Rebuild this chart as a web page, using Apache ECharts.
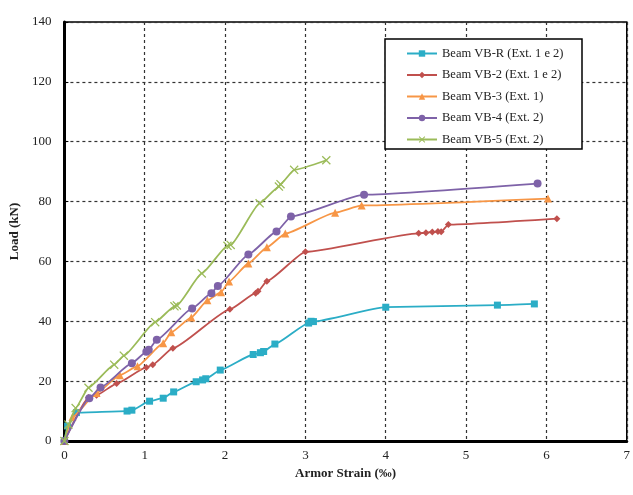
<!DOCTYPE html>
<html><head><meta charset="utf-8">
<script src="https://cdn.jsdelivr.net/npm/echarts@6/dist/echarts.min.js"></script>
<style>html,body{margin:0;padding:0;background:#fff}#c{width:633px;height:495px}</style>
</head><body><div id="c"></div>
<script>
const seriesNames = ['Beam VB-R (Ext. 1 e 2)','Beam VB-2 (Ext. 1 e 2)','Beam VB-3 (Ext. 1)','Beam VB-4 (Ext. 2)','Beam VB-5 (Ext. 2)'];
const xTicks = [0,1,2,3,4,5,6,7];
const yTicks = [0,20,40,60,80,100,120,140];
const vbR = [[0,0],[0.04,5],[0.15,9.5],[0.78,10],[0.84,10.3],[1.06,13.3],[1.23,14.3],[1.36,16.4],[1.64,19.8],[1.72,20.4],[1.76,20.8],[1.94,23.7],[2.35,28.9],[2.44,29.5],[2.48,29.9],[2.62,32.4],[3.04,39.4],[3.07,40],[3.1,39.9],[4.0,44.7],[5.39,45.4],[5.85,45.8]];
const vb2 = [[0,0],[0.3,14.5],[0.4,15.3],[0.65,19.2],[1.02,24.6],[1.1,25.5],[1.35,31],[2.06,44],[2.38,49.4],[2.41,50],[2.52,53.4],[3.0,63.2],[4.41,69.4],[4.5,69.6],[4.58,69.8],[4.65,70],[4.69,69.9],[4.78,72.3],[6.13,74.3]];
const vb3 = [[0,0],[0.1,8],[0.4,16],[0.69,22],[0.91,25],[1.23,32.7],[1.33,36.3],[1.58,41.3],[1.78,47],[1.95,49.7],[2.05,53.3],[2.29,59.3],[2.52,64.7],[2.75,69.3],[3.37,76.3],[3.7,78.7],[6.02,81]];
const vb4 = [[0,0],[0.31,14.3],[0.45,17.9],[0.84,26],[1.02,29.8],[1.05,30.5],[1.15,33.8],[1.59,44.3],[1.83,49.4],[1.91,51.8],[2.29,62.3],[2.64,70],[2.82,75],[3.73,82.3],[5.89,86]];
const vb5 = [[0,0],[0.05,5.5],[0.14,11],[0.3,17.8],[0.62,25.5],[0.74,28.5],[1.13,39.7],[1.37,45],[1.4,45.3],[1.71,56],[2.03,65.2],[2.07,65.5],[2.43,79.4],[2.67,85],[2.69,85.8],[2.86,90.6],[3.26,93.8]];

const colors = ['#2badc6','#c0504d','#f79646','#7e62a8','#9bbb59'];
const xStar = 'path://M0,1 L1,0 L5,4 L9,0 L10,1 L6,5 L10,9 L9,10 L5,6 L1,10 L0,9 L4,5 Z';
const symbols = ['rect','diamond','triangle','circle',xStar];
const sizes = [7,7,8,8,9];
const datas = [vbR,vb2,vb3,vb4,vb5];
const serif = '"Liberation Serif","DejaVu Serif",serif';

const chart = echarts.init(document.getElementById('c'));
chart.setOption({
  animation:false,
  color: colors,
  grid:{left:62,right:3,top:22,bottom:54,show:true,borderColor:'#000',borderWidth:1.5},
  legend:{
    orient:'vertical', left:401, top:42, itemGap:8.5, itemWidth:30, itemHeight:8, z:60,
    textStyle:{fontFamily:serif,fontSize:12.5,color:'#222'},
    data: seriesNames
  },
  graphic:[{type:'rect',shape:{x:385,y:39,width:197,height:110},style:{fill:'#fff',stroke:'#000',lineWidth:1.5},z:50}],
  xAxis:{type:'value',min:0,max:7,interval:1,
    name:'Armor Strain (‰)',nameLocation:'middle',nameGap:25,
    nameTextStyle:{fontFamily:serif,fontWeight:'bold',fontSize:13,color:'#222'},
    axisLine:{lineStyle:{color:'#000',width:3}},
    axisTick:{show:false},
    axisLabel:{fontFamily:serif,fontSize:13,color:'#222',margin:8,formatter:v=>xTicks.includes(v)?String(v):''},
    splitLine:{show:true,lineStyle:{color:'#333',type:[3,3],width:1.2}}},
  yAxis:{type:'value',min:0,max:140,interval:20,
    name:'Load (kN)',nameLocation:'middle',nameGap:40,nameRotate:90,
    nameTextStyle:{fontFamily:serif,fontWeight:'bold',fontSize:13,color:'#222'},
    axisLine:{show:true,lineStyle:{color:'#000',width:3}},
    axisTick:{show:true,inside:true,length:4,lineStyle:{color:'#000'}},
    axisLabel:{fontFamily:serif,fontSize:13,color:'#222',margin:13,formatter:v=>yTicks.includes(v)?String(v):''},
    splitLine:{show:true,lineStyle:{color:'#333',type:[3,3],width:1.2}}},
  series: datas.map((d,i)=>({
    name:seriesNames[i], type:'line', data:d, smooth:0.15, smoothMonotone:'x',
    symbol:symbols[i], symbolSize:sizes[i], showAllSymbol:true,
    lineStyle:{width:1.8,color:colors[i]}, itemStyle:{color:colors[i]}, z:2+i
  }))
});
</script></body></html>
